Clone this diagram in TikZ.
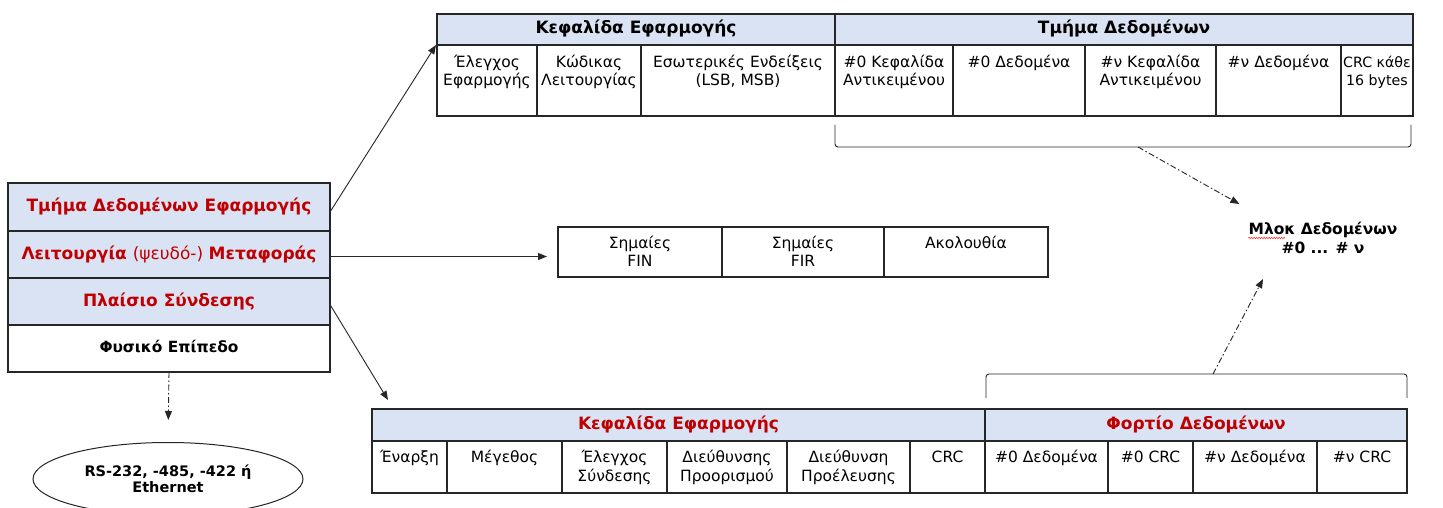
\documentclass[tikz,border=0pt]{standalone}
\usepackage{fontspec}
\setmainfont{DejaVu Sans}
\usetikzlibrary{arrows.meta,shapes.geometric,fit,decorations.pathmorphing}
\definecolor{hdr}{HTML}{DAE3F3}
\definecolor{redt}{HTML}{C00000}
\definecolor{ln}{HTML}{262626}
\tikzset{
  cellbox/.style={draw=ln, line width=1.3pt, inner sep=0pt, outer sep=0pt},
  hdrbox/.style={cellbox, fill=hdr},
  regf/.style={font=\fontsize{15.5}{18.5}\selectfont},
  ctext/.style={regf, anchor=north, inner sep=0pt, align=center},
  hbold/.style={font=\fontsize{17}{20}\selectfont\bfseries, inner sep=0pt, text height=11pt, text depth=2pt},
  redbold/.style={hbold, text=redt},
  blkbold/.style={font=\fontsize{15.4}{19}\selectfont\bfseries, inner sep=0pt, text height=10pt, text depth=2pt},
  arr/.style={draw=ln, line width=0.9pt, -{Triangle[length=9pt,width=7pt]}},
  dasharr/.style={arr, dash pattern=on 6pt off 2.5pt on 1.5pt off 2.5pt},
  brace/.style={draw=ln, line width=0.9pt, rounded corners=3pt},
  squig/.style={draw=red!80, line width=0.6pt, decorate, decoration={snake, amplitude=0.7pt, segment length=2.5pt}}
}
% name, x1, y1, x2, y2, shift, text  (text at top of cell)
\newcommand\rowcell[7]{%
  \node[cellbox, fit={(#2,#3)(#4,#5)}] (#1) {};
  \node[ctext] (#1t) at ([yshift=-#6pt]#1.north) {\strut #7};
}
% name, boxstyle, x1, y1, x2, y2, textstyle, text  (text centred)
\newcommand\boxcell[8]{%
  \node[#2, fit={(#3,#4)(#5,#6)}] (#1) {};
  \node[#7] (#1t) at (#1.center) {#8};
}
\begin{document}
\begin{tikzpicture}[x=1pt,y=-1pt]
\useasboundingbox (0,0) rectangle (1443,508);
\fill[white] (0,0) rectangle (1443,508);

% ---------- top table ----------
\boxcell{th1}{hdrbox}{437}{14}{835}{45}{hbold}{Κεφαλίδα Εφαρμογής}
\boxcell{th2}{hdrbox}{835}{14}{1413}{45}{hbold}{Τμήμα Δεδομένων}
\rowcell{t1}{437}{45}{537}{116}{9}{Έλεγχος\\Εφαρμογής}
\rowcell{t2}{537}{45}{641}{116}{9}{Κώδικας\\Λειτουργίας}
\rowcell{t3}{641}{45}{835}{116}{9}{Εσωτερικές Ενδείξεις\\(LSB, MSB)}
\rowcell{t4}{835}{45}{953}{116}{9}{\#0 Κεφαλίδα\\Αντικειμένου}
\rowcell{t5}{953}{45}{1085}{116}{9}{\#0 Δεδομένα}
\rowcell{t6}{1085}{45}{1216}{116}{9}{\#ν Κεφαλίδα\\Αντικειμένου}
\rowcell{t7}{1216}{45}{1341}{116}{9}{\#ν Δεδομένα}
\node[cellbox, fit={(1341,45)(1413,116)}] (t8) {};
\node[ctext, font=\fontsize{14.2}{18.5}\selectfont] (t8t) at ([yshift=-9pt]t8.north) {\strut CRC κάθε\\16 bytes};

% bracket under data section
\coordinate (ta) at (835,125);
\coordinate (tb) at (835,147);
\coordinate (tc) at (1411,147);
\coordinate (td) at (1411,125);
\coordinate (tm) at (1138,147);
\draw[brace] (ta) -- (tb) -- (tc) -- (td);

% ---------- data block label ----------
\node[font=\fontsize{15.5}{19}\selectfont\bfseries, align=center, inner sep=0pt] (mlok) at (1323,238) {Μλοκ Δεδομένων\\\#0 ... \# ν};
\draw[squig] ([yshift=-16pt]mlok.north west) -- ++(37,0);

% ---------- left stack ----------
\boxcell{s1}{hdrbox}{8}{183}{330}{231}{redbold}{Τμήμα Δεδομένων Εφαρμογής}
\boxcell{s2}{hdrbox}{8}{231}{330}{278}{redbold}{Λειτουργία \mdseries(ψευδό-) \bfseries Μεταφοράς}
\boxcell{s3}{hdrbox}{8}{278}{330}{325}{redbold}{Πλαίσιο Σύνδεσης}
\boxcell{s4}{cellbox}{8}{325}{330}{372}{blkbold}{Φυσικό Επίπεδο}

% ---------- ellipse ----------
\node[ellipse, draw=ln, line width=1pt, minimum width=270pt, minimum height=73pt,
      font=\fontsize{14.5}{16}\selectfont\bfseries, align=center, inner sep=0pt] (eth) at (168,479)
      {RS-232, -485, -422 ή\\Ethernet};

% ---------- middle box ----------
\rowcell{m1}{558}{227}{722}{277}{8}{Σημαίες\\FIN}
\rowcell{m2}{722}{227}{884}{277}{8}{Σημαίες\\FIR}
\rowcell{m3}{884}{227}{1048}{277}{8}{Ακολουθία}

% ---------- bottom table ----------
\boxcell{bh1}{hdrbox}{372}{409}{985}{441}{redbold}{Κεφαλίδα Εφαρμογής}
\boxcell{bh2}{hdrbox}{985}{409}{1407}{441}{redbold}{Φορτίο Δεδομένων}
\rowcell{b1}{372}{441}{447}{493}{8.5}{Έναρξη}
\rowcell{b2}{447}{441}{562}{493}{8.5}{Μέγεθος}
\rowcell{b3}{562}{441}{667}{493}{8.5}{Έλεγχος\\Σύνδεσης}
\rowcell{b4}{667}{441}{787}{493}{8.5}{Διεύθυνσης\\Προορισμού}
\rowcell{b5}{787}{441}{910}{493}{8.5}{Διεύθυνση\\Προέλευσης}
\rowcell{b6}{910}{441}{985}{493}{8.5}{CRC}
\rowcell{b7}{985}{441}{1108}{493}{8.5}{\#0 Δεδομένα}
\rowcell{b8}{1108}{441}{1193}{493}{8.5}{\#0 CRC}
\rowcell{b9}{1193}{441}{1317}{493}{8.5}{\#ν Δεδομένα}
\rowcell{b10}{1317}{441}{1407}{493}{8.5}{\#ν CRC}

% bracket above payload
\coordinate (ba) at (986,398);
\coordinate (bb) at (986,374);
\coordinate (bc) at (1407,374);
\coordinate (bd) at (1407,398);
\coordinate (bm) at (1213,374);
\draw[brace] (ba) -- (bb) -- (bc) -- (bd);

% ---------- connectors ----------
\draw[arr] ([yshift=-5pt]s1.east) -- ([xshift=-1pt]th1.south west);
\draw[arr, shorten >=11pt] ([yshift=-2pt]s2.east) -- ([yshift=-2pt]s2.east -| m1.west);
\draw[arr] ([yshift=-3pt]s3.east) -- ([xshift=16pt,yshift=9pt]bh1.north west);
\draw[dasharr, shorten >=22pt] (s4.south) -- (eth.north);
\draw[dasharr] (tm) -- ([xshift=-9pt,yshift=18pt]mlok.north west);
\draw[dasharr] (bm) -- ([xshift=-60pt,yshift=-25pt]mlok.south);
\end{tikzpicture}
\end{document}
